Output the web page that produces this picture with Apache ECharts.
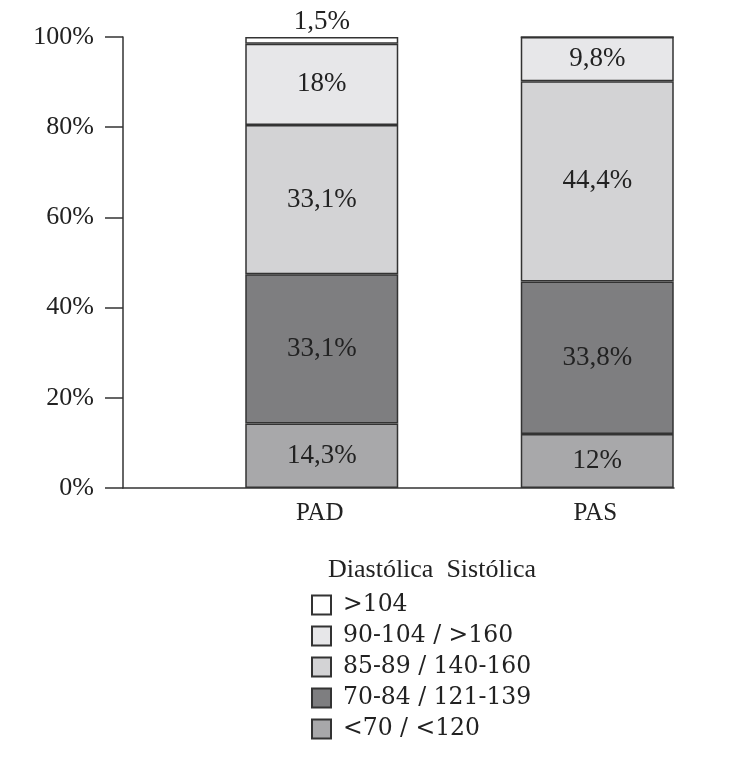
<!DOCTYPE html>
<html>
<head>
<meta charset="utf-8">
<script src="https://cdn.jsdelivr.net/npm/echarts@6/dist/echarts.min.js"></script>
<style>html,body{margin:0;padding:0;background:#fff}#c{width:730px;height:766px}</style>
</head>
<body>
<div id="c"></div>
<script>
const categories = ['PAD', 'PAS'];
const seriesNames = ['<70 / <120', '70-84 / 121-139', '85-89 / 140-160', '90-104 / >160', '>104'];
const valuesLt70 = [14.3, 12];
const values70to84 = [33.1, 33.8];
const values85to89 = [33.1, 44.4];
const values90to104 = [18, 9.8];
const valuesGt104 = [1.5, 0];
const yTicks = [0, 20, 40, 60, 80, 100];
const legendTitle = 'Diastólica  Sistólica';

const seriesValues = [valuesLt70, values70to84, values85to89, values90to104, valuesGt104];
const colors = ['#a8a8aa', '#7e7e80', '#d3d3d5', '#e7e7e9', '#ffffff'];
const FONT = 'Liberation Serif';
const fmt = p => p.value ? String(p.value).replace('.', ',') + '%' : '';

const spacer = {
  name: 'spacer', type: 'bar', stack: 'spacer', barWidth: 122, barGap: '0%',
  data: categories.map(() => 0), silent: true,
  itemStyle: { color: 'transparent', borderWidth: 0 }, label: { show: false }
};

const chart = echarts.init(document.getElementById('c'));
chart.setOption({
  animation: false,
  backgroundColor: '#fff',
  textStyle: { fontFamily: FONT, color: '#222' },
  title: {
    text: legendTitle, left: 323, top: 552,
    textStyle: { fontFamily: FONT, fontSize: 26, fontWeight: 'normal', color: '#222' }
  },
  legend: {
    orient: 'vertical', left: 306, top: 587,
    data: seriesNames.slice().reverse(),
    icon: 'rect', itemWidth: 19, itemHeight: 19, itemGap: 5,
    textStyle: { fontFamily: 'DejaVu Serif', fontSize: 23.5, lineHeight: 26, color: '#222', padding: [0, 0, 0, 7] }
  },
  grid: { left: 123, right: 56, top: 37, bottom: 278 },
  xAxis: {
    type: 'category', data: categories,
    axisLine: { lineStyle: { color: '#333', width: 1.5 } },
    axisTick: { show: false },
    axisLabel: { fontFamily: FONT, fontSize: 25, color: '#222', margin: 13, padding: [0, 0, 0, 118] }
  },
  yAxis: {
    type: 'value', min: yTicks[0], max: yTicks[yTicks.length - 1], interval: yTicks[1] - yTicks[0],
    axisLine: { show: true, lineStyle: { color: '#333', width: 1.5 } },
    axisTick: { show: true, length: 18, lineStyle: { color: '#333', width: 1.5 } },
    splitLine: { show: false },
    axisLabel: { formatter: '{value}%', fontFamily: FONT, fontSize: 26, color: '#222', margin: 29 }
  },
  series: [spacer].concat(seriesNames.map((name, i) => ({
    name, type: 'bar', stack: 'total',
    barWidth: 153, barGap: '0%',
    data: seriesValues[i],
    itemStyle: { color: colors[i], borderColor: '#333', borderWidth: 1.5 },
    label: {
      show: true, position: i === 4 ? 'top' : 'inside', formatter: fmt,
      fontFamily: FONT, fontSize: 27, color: '#222', distance: 2
    }
  })))
});
</script>
</body>
</html>
